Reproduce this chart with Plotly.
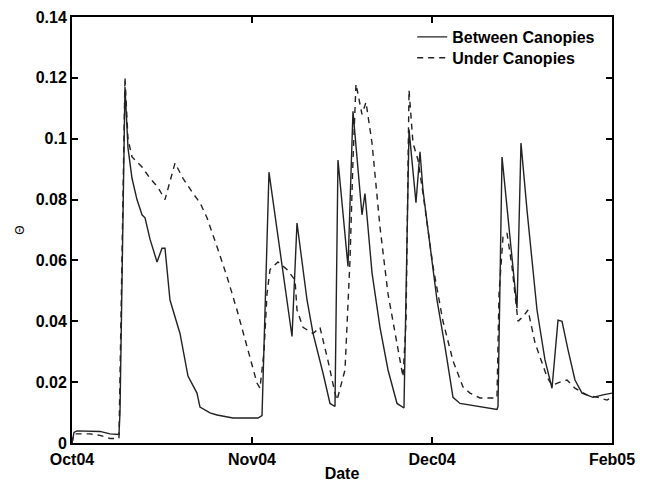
import plotly.graph_objects as go

# Days since Oct04 (axis ticks equally spaced)
between_x = [0, 0.33, 0.83, 3, 4.67, 6.33, 7.83, 8, 8.83, 9.33, 10, 10.83, 11.67, 12.17, 13, 14.17,
             15, 15.5, 16.33, 18, 19.33, 20.83, 21.33, 23, 24.17, 26.83, 31, 31.67, 32.83, 36.67,
             37.5, 39.17, 40.17, 41.83, 43, 43.83, 44.33, 46, 46.83, 48.33, 48.83, 50, 51.33, 52.67,
             54.17, 55.33, 56.17, 57.33, 58, 58.5, 59.67, 60.83, 62.17, 63.5, 64.67, 66.33, 67.5,
             70.83, 71, 71.67, 74.17, 74.83, 75.83, 77.5, 78.83, 80, 81, 81.67, 82.67, 83.83, 85,
             86.83, 88.5, 90]
between_y = [0.000, 0.0035, 0.0040, 0.0040, 0.0038, 0.0030, 0.0028, 0.010, 0.117, 0.097, 0.087,
             0.080, 0.075, 0.074, 0.067, 0.0595, 0.064, 0.064, 0.047, 0.036, 0.022, 0.0164, 0.0118,
             0.0099, 0.0092, 0.0082, 0.0082, 0.0090, 0.089, 0.035, 0.0723, 0.047, 0.036, 0.023,
             0.013, 0.012, 0.093, 0.058, 0.109, 0.075, 0.082, 0.056, 0.038, 0.024, 0.013, 0.0115,
             0.103, 0.079, 0.0957, 0.083, 0.064, 0.047, 0.0316, 0.015, 0.013, 0.0125, 0.012, 0.011,
             0.012, 0.094, 0.0443, 0.0986, 0.0766, 0.0437, 0.0273, 0.018, 0.0404, 0.040, 0.0306,
             0.0207, 0.0164, 0.015, 0.0158, 0.0164]

under_x = [0, 0.33, 3, 4.67, 6.33, 7.83, 8.83, 9.33, 10, 11.67, 13, 14.33, 15.5, 17.17, 18.5,
           20.17, 21.33, 22.5, 24.17, 25.83, 27.5, 29.17, 30.83, 31.33, 32, 32.5, 33, 34.33, 35.83,
           37.17, 37.5, 38.5, 40.17, 41.33, 42.67, 43.83, 44.17, 45.5, 46.33, 46.83, 47.33, 48.33,
           49, 50, 51.33, 52.67, 54.17, 55.17, 55.67, 56.17, 56.83, 57.67, 58.5, 60.17, 61.83,
           63.5, 65.17, 66.33, 68, 70.83, 71.17, 71.83, 72.5, 73.33, 74.33, 75.17, 76, 77.17,
           79.17, 80, 81.33, 82.5, 83.83, 85.83, 88, 89.17, 90]
under_y = [0.000, 0.003, 0.003, 0.0025, 0.0015, 0.0015, 0.1203, 0.100, 0.094, 0.0907, 0.087,
           0.084, 0.080, 0.092, 0.087, 0.082, 0.079, 0.074, 0.0645, 0.0547, 0.0437, 0.0316,
           0.0197, 0.018, 0.030, 0.049, 0.057, 0.0595, 0.057, 0.0536, 0.0437, 0.038, 0.036,
           0.038, 0.027, 0.0164, 0.0141, 0.024, 0.060, 0.093, 0.118, 0.108, 0.112, 0.0986, 0.071,
           0.049, 0.0329, 0.0217, 0.040, 0.116, 0.0986, 0.093, 0.082, 0.058, 0.040, 0.027,
           0.0184, 0.0164, 0.0148, 0.0148, 0.049, 0.0677, 0.069, 0.058, 0.040, 0.0415, 0.0437,
           0.0329, 0.0217, 0.019, 0.020, 0.0207, 0.018, 0.0158, 0.0148, 0.0141, 0.015]

x_tickvals = [0, 30, 60, 90]
x_ticktext = ["Oct04", "Nov04", "Dec04", "Feb05"]
y_tickvals = [0, 0.02, 0.04, 0.06, 0.08, 0.1, 0.12, 0.14]
y_ticktext = ["0", "0.02", "0.04", "0.06", "0.08", "0.1", "0.12", "0.14"]

FONT = "Liberation Sans, Arial, sans-serif"
LEGFONT = dict(family=FONT, size=16, color="black", weight="bold")

fig = go.Figure()
fig.add_trace(go.Scatter(x=between_x, y=between_y, mode="lines", name="Between Canopies",
                         line=dict(color="#222222", width=1.4), legend="legend"))
fig.add_trace(go.Scatter(x=under_x, y=under_y, mode="lines", name="Under Canopies",
                         line=dict(color="#222222", width=1.4, dash="6px,5px"), legend="legend2"))

axis_common = dict(showline=True, linecolor="black", linewidth=2, mirror="ticks",
                   ticks="inside", ticklen=6, tickwidth=1.5, tickcolor="black",
                   showgrid=False, zeroline=False, automargin=False,
                   tickfont=dict(family=FONT, size=16, color="black", weight="bold"))

fig.update_xaxes(range=[0, 90], tickvals=x_tickvals, ticktext=x_ticktext, ticklabelstandoff=1,
                 title=dict(text="Date", font=dict(family=FONT, size=16, color="black", weight="bold"),
                            standoff=6),
                 **axis_common)
fig.update_yaxes(range=[0, 0.14], tickvals=y_tickvals, ticktext=y_ticktext,
                 title=dict(text="Θ", font=dict(family=FONT, size=12, color="black"), standoff=8),
                 **axis_common)

fig.update_layout(
    width=645, height=482,
    margin=dict(l=72, r=33, t=17, b=39),
    paper_bgcolor="white", plot_bgcolor="white",
    showlegend=True,
    legend=dict(x=0.63, y=0.953, xanchor="left", yanchor="middle", bgcolor="rgba(0,0,0,0)",
                font=LEGFONT, itemwidth=30),
    legend2=dict(x=0.63, y=0.904, xanchor="left", yanchor="middle", bgcolor="rgba(0,0,0,0)",
                 font=LEGFONT, itemwidth=30),
)

fig.write_html("out.html")
